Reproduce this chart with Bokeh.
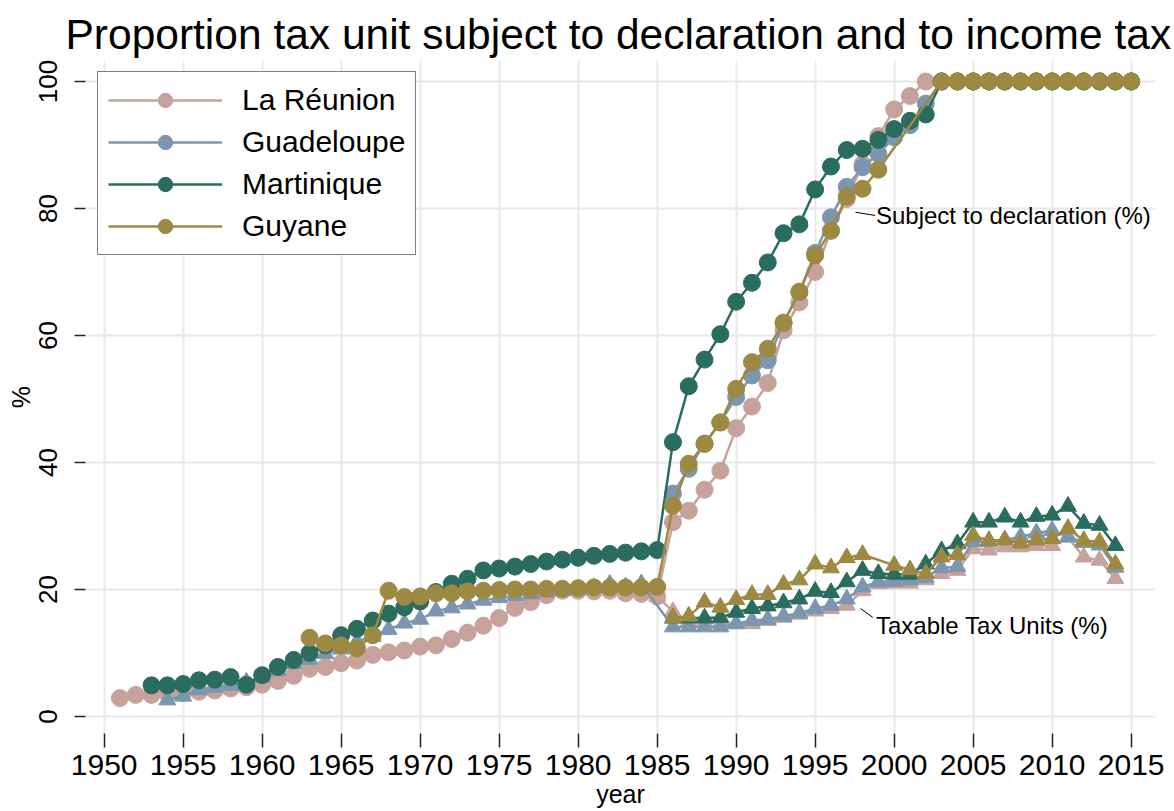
from bokeh.plotting import figure
from bokeh.models import Range1d, Legend, LegendItem, Label, FixedTicker, ColumnDataSource
from bokeh.embed import file_html
from bokeh.resources import INLINE

FONT = "Liberation Sans"

title_text = "Proportion tax unit subject to declaration and to income tax"
x_ticks = [1950, 1955, 1960, 1965, 1970, 1975, 1980, 1985, 1990, 1995, 2000, 2005, 2010, 2015]
y_ticks = [0, 20, 40, 60, 80, 100]
countries = ["La Réunion", "Guadeloupe", "Martinique", "Guyane"]
colors = ["#C6A29B", "#7D96B0", "#2A6C5E", "#9D8941"]

# ---- La Réunion ----
reu_decl_years = list(range(1951, 2016))
reu_decl = [2.9, 3.4, 3.4, 3.6, 3.7, 3.9, 4.1, 4.4, 4.6, 5.0,
            5.6, 6.4, 7.5, 7.8, 8.4, 8.8, 9.7, 10.1, 10.4, 11.0,
            11.2, 12.2, 13.2, 14.3, 15.5, 17.1, 18.0, 19.1, 19.8, 19.8,
            19.7, 19.8, 19.4, 19.3, 18.9, 30.6, 32.4, 35.7, 38.7, 45.4,
            48.8, 52.5, 60.8, 65.2, 70.0, 76.5, 81.5, 87.0, 91.4, 95.6,
            97.7, 100.0,
            100.0, 100.0, 100.0, 100.0, 100.0, 100.0, 100.0, 100.0, 100.0, 100.0, 100.0, 100.0, 100.0]
reu_tax_years = list(range(1985, 2015))
reu_tax = [18.9, 16.5, 15.0, 14.8, 14.7, 14.6, 14.6, 15.1, 15.6, 16.1,
           16.6, 17.0, 17.5, 19.8, 20.9, 21.0, 21.0, 21.5, 22.5, 23.0,
           26.4, 26.2, 26.7, 26.7, 26.9, 26.9, 28.2, 25.1, 24.6, 21.7]

# ---- Guadeloupe ----
glp_decl_years = list(range(1986, 2016))
glp_decl = [35.1, 39.0, 43.0, 46.3, 50.3, 53.7, 56.1, 62.0, 66.8, 73.0,
            78.6, 83.4, 86.5, 88.6, 91.2, 93.1, 96.5,
            100.0, 100.0, 100.0, 100.0, 100.0, 100.0, 100.0, 100.0, 100.0, 100.0, 100.0, 100.0, 100.0]
glp_tax_years = list(range(1954, 1985)) + list(range(1986, 2015))
glp_tax = [2.6, 3.2, 4.2, 4.6, 4.9, 5.4, 6.2, 7.2, 8.3, 9.0,
           9.9, 10.6, 11.8, 12.6, 13.7, 14.7, 15.3, 16.6, 17.1, 17.7,
           18.3, 18.7, 19.0, 19.3, 19.6, 19.8, 20.0, 20.3, 20.8, 20.4,
           20.9,
           14.1, 14.1, 14.1, 14.1, 14.6, 15.1, 15.3, 15.8, 16.3, 17.0,
           17.5, 18.5, 20.4, 21.2, 21.3, 21.5, 21.9, 23.4, 23.6, 27.5,
           27.5, 27.8, 28.3, 28.9, 29.3, 28.3, 27.4, 27.0, 23.5]

# ---- Martinique ----
mtq_decl_years = list(range(1953, 2016))
mtq_decl = [4.9, 4.9, 5.1, 5.7, 5.8, 6.2, 5.0, 6.5, 7.8, 8.9,
            10.0, 11.2, 12.8, 13.8, 15.1, 16.2, 17.2, 18.1, 19.6, 20.9,
            21.7, 23.0, 23.3, 23.6, 24.0, 24.4, 24.7, 25.0, 25.3, 25.6,
            25.8, 26.0, 26.2, 43.2, 52.0, 56.2, 60.2, 65.3, 68.3, 71.5,
            76.1, 77.5, 83.0, 86.6, 89.2, 89.4, 90.8, 92.5, 93.8, 94.8,
            100.0, 100.0, 100.0, 100.0, 100.0, 100.0, 100.0, 100.0, 100.0, 100.0, 100.0, 100.0, 100.0]
mtq_tax_years = list(range(1986, 2015))
mtq_tax = [15.5, 15.5, 15.5, 15.6, 16.4, 17.0, 17.4, 17.9, 18.5, 19.7,
           19.5, 21.2, 23.0, 22.5, 22.4, 22.4, 24.0, 26.1, 27.2, 30.6,
           30.6, 31.4, 30.6, 31.5, 31.7, 33.1, 30.4, 30.1, 26.9]

# ---- Guyane ----
guf_decl_years = list(range(1963, 2000)) + list(range(2003, 2016))
guf_decl = [12.4, 11.5, 11.2, 10.7, 12.8, 19.8, 18.8, 18.9, 19.4, 19.4,
            19.7, 19.8, 19.9, 20.0, 20.0, 20.1, 20.1, 20.2, 20.3, 20.3,
            20.3, 20.3, 20.4, 33.2, 39.8, 42.9, 46.3, 51.6, 55.8, 57.9,
            62.0, 66.9, 72.6, 76.5, 81.9, 83.1, 86.1,
            100.0, 100.0, 100.0, 100.0, 100.0, 100.0, 100.0, 100.0, 100.0, 100.0, 100.0, 100.0, 100.0]
guf_tax_years = list(range(1986, 1999)) + list(range(2000, 2015))
guf_tax = [15.5, 15.8, 18.0, 17.2, 18.4, 19.2, 19.2, 20.8, 21.5, 24.0,
           23.4, 25.0, 25.5,
           23.8, 23.1, 22.5, 25.1, 25.5, 28.5, 27.7, 27.8, 27.3, 27.8,
           28.0, 29.6, 27.7, 27.5, 24.0]

series = [
    (reu_decl_years, reu_decl, reu_tax_years, reu_tax),
    (glp_decl_years, glp_decl, glp_tax_years, glp_tax),
    (mtq_decl_years, mtq_decl, mtq_tax_years, mtq_tax),
    (guf_decl_years, guf_decl, guf_tax_years, guf_tax),
]

p = figure(width=1174, height=811, output_backend="svg", toolbar_location=None,
           x_range=Range1d(1948.82, 2016.54), y_range=Range1d(-2.68, 103.3),
           min_border_left=85, min_border_right=19, min_border_top=60, min_border_bottom=78)
p.outline_line_color = None
p.background_fill_color = "white"
p.border_fill_color = "white"

p.title.text = title_text
p.title.text_font = FONT
p.title.text_font_size = "42.5px"
p.title.text_font_style = "normal"
p.title.text_color = "black"
p.title.align = "left"
p.title.offset = -20
p.title.standoff = 6

# grids
p.xgrid.ticker = FixedTicker(ticks=x_ticks)
p.ygrid.ticker = FixedTicker(ticks=y_ticks)
for g in (p.xgrid, p.ygrid):
    g.grid_line_color = "#E8E8E8"
    g.grid_line_width = 2

# axes
p.xaxis.ticker = FixedTicker(ticks=x_ticks)
p.yaxis.ticker = FixedTicker(ticks=y_ticks)
for ax in (p.xaxis, p.yaxis):
    ax.axis_line_color = None
    ax.major_tick_line_color = "#222222"
    ax.major_tick_line_width = 1.5
    ax.major_tick_in = 0
    ax.minor_tick_line_color = None
    ax.major_label_text_font = FONT
    ax.major_label_text_color = "black"
    ax.axis_label_text_font = FONT
    ax.axis_label_text_font_size = "25px"
    ax.axis_label_text_font_style = "normal"
    ax.axis_label_text_color = "black"
p.xaxis.major_label_text_font_size = "30px"
p.xaxis.major_tick_out = 14
p.xaxis.major_label_standoff = 7
p.xaxis.axis_label = "year"
p.xaxis.axis_label_standoff = 2
p.yaxis.major_label_text_font_size = "26px"
p.yaxis.major_tick_out = 11
p.yaxis.major_label_standoff = 17
p.yaxis.major_label_orientation = "vertical"
p.yaxis.axis_label = "%"
p.yaxis.axis_label_standoff = 2

legend_items = []
for name, col, (dy, dv, ty, tv) in zip(countries, colors, series):
    src_d = ColumnDataSource(dict(x=dy, y=dv))
    src_t = ColumnDataSource(dict(x=ty, y=tv))
    ld = p.line("x", "y", source=src_d, line_color=col, line_width=2.5)
    md = p.scatter("x", "y", source=src_d, marker="circle", size=17,
                   fill_color=col, line_color=col)
    p.line("x", "y", source=src_t, line_color=col, line_width=2.5)
    p.scatter("x", "y", source=src_t, marker="triangle", size=17,
              fill_color=col, line_color=col)
    legend_items.append(LegendItem(label=name, renderers=[ld, md]))

legend = Legend(items=legend_items, location=(12, 478),
                border_line_color="black", border_line_width=1.5,
                background_fill_color="white", background_fill_alpha=1,
                label_text_font=FONT, label_text_font_size="30px", label_text_color="black",
                glyph_width=114, glyph_height=36, label_height=36,
                spacing=6, padding=10, label_standoff=20, margin=0)
p.add_layout(legend, "center")

# annotations
p.segment(x0=[1997.55], y0=[79.4], x1=[1998.8], y1=[78.9], line_color="black", line_width=1)
p.segment(x0=[1997.87], y0=[17.0], x1=[1998.65], y1=[15.6], line_color="black", line_width=1)
p.add_layout(Label(x=1998.85, y=78.9, text="Subject to declaration (%)",
                   text_baseline="middle", text_font=FONT, text_font_size="24px",
                   text_color="black"))
p.add_layout(Label(x=1998.85, y=14.3, text="Taxable Tax Units (%)",
                   text_baseline="middle", text_font=FONT, text_font_size="24px",
                   text_color="black"))

open("out.html", "w").write(file_html(p, INLINE))
